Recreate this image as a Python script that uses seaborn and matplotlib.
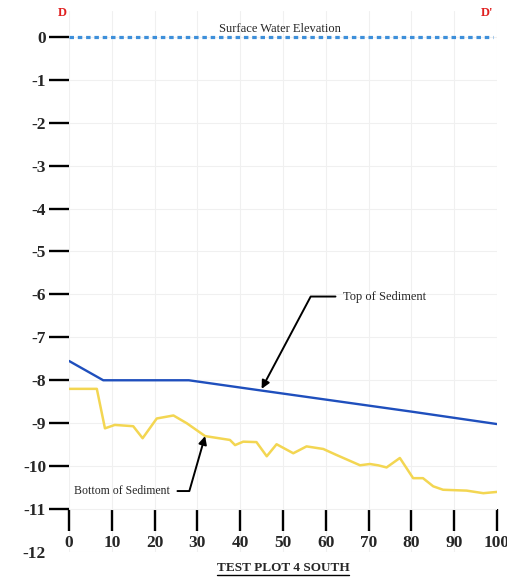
import numpy as np
import pandas as pd
import matplotlib
import matplotlib.pyplot as plt
from matplotlib.lines import Line2D
import seaborn as sns

# data
surface_x = [0, 99]
surface_y = [0.0, 0.0]

top_x = [0, 8, 28, 45, 60, 80, 100]
top_y = [-7.55, -8.0, -8.0, -8.24, -8.45, -8.73, -9.02]

bottom_x = [0, 6.5, 8.4, 10.7, 15, 17.2, 20.5, 24.4, 27.5, 31.8, 37.6, 38.8, 40.7,
            43.8, 46.2, 48.5, 52.4, 55.5, 59.4, 62.5, 68, 70.3, 72.2, 74.2, 77.3,
            80.4, 82.7, 85.1, 87.4, 92.9, 96.8, 100]
bottom_y = [-8.2, -8.2, -9.12, -9.04, -9.07, -9.35, -8.89, -8.82, -9.0, -9.3, -9.39,
            -9.51, -9.43, -9.44, -9.77, -9.49, -9.7, -9.54, -9.6, -9.74, -9.98, -9.95,
            -9.98, -10.03, -9.81, -10.28, -10.28, -10.47, -10.55, -10.57, -10.63, -10.6]

x_ticks = list(range(0, 101, 10))
y_ticks = list(range(0, -13, -1))

sns.set_style('whitegrid')
plt.rcParams['font.family'] = ['Liberation Serif', 'DejaVu Serif']
plt.rcParams['axes.unicode_minus'] = False

fig = plt.figure(figsize=(5.07, 5.79), dpi=100)
ax = fig.add_axes([0.1361, 0.0466, 0.8442, 0.9344])

surf = pd.DataFrame({'x': surface_x, 'y': surface_y})
top = pd.DataFrame({'x': top_x, 'y': top_y})
bot = pd.DataFrame({'x': bottom_x, 'y': bottom_y})

sns.lineplot(data=surf, x='x', y='y', ax=ax, color='#3d8fda', lw=2.3,
             linestyle=(0, (1.4, 1.2)), zorder=3)
sns.lineplot(data=top, x='x', y='y', ax=ax, color='#1f4fbd', lw=1.7, zorder=3)
sns.lineplot(data=bot, x='x', y='y', ax=ax, color='#f3d652', lw=1.8, zorder=3)

ax.set_xlim(0, 100)
ax.set_ylim(-12, 0.6)
ax.set_xlabel('')
ax.set_ylabel('')

for s in ax.spines.values():
    s.set_visible(False)
ax.spines['bottom'].set_position(('data', -11))

ax.set_xticks(x_ticks)
ax.set_xticklabels([str(v) for v in x_ticks])
ax.set_yticks(y_ticks)
ax.set_yticklabels([str(v) for v in y_ticks])
ax.tick_params(axis='x', bottom=True, direction='out', length=16, width=1.7,
               color='black', pad=3, labelsize=12.5)
ax.tick_params(axis='y', left=True, direction='out', length=14.5, width=1.7,
               color='black', pad=2, labelsize=12.5)
ax.yaxis.get_major_ticks()[-1].tick1line.set_visible(False)
for lab in ax.get_xticklabels() + ax.get_yticklabels():
    lab.set_fontweight('bold')

ax.grid(True, color='#f0f0f0', lw=0.8)
ax.set_axisbelow(True)

ax.text(49.3, 0.17, 'Surface Water Elevation', ha='center', va='center',
        fontsize=9, zorder=4)
ax.text(-1.6, 0.55, 'D', color='#e02020', fontsize=9, fontweight='bold',
        ha='center', va='center', clip_on=False)
ax.text(97.7, 0.55, "D'", color='#e02020', fontsize=9, fontweight='bold',
        ha='center', va='center', clip_on=False)

ax.annotate('Top of Sediment', xy=(45, -8.2), xytext=(64, -6.05),
            ha='left', va='center', fontsize=9,
            arrowprops=dict(arrowstyle='-|>', color='black', lw=1.4,
                            mutation_scale=12, shrinkA=3, shrinkB=0,
                            connectionstyle='angle,angleA=0,angleB=62,rad=0'))
ax.annotate('Bottom of Sediment', xy=(31.8, -9.3), xytext=(12.4, -10.58),
            ha='center', va='center', fontsize=8.5,
            arrowprops=dict(arrowstyle='-|>', color='black', lw=1.4,
                            mutation_scale=12, shrinkA=3, shrinkB=0,
                            connectionstyle='angle,angleA=0,angleB=-106,rad=0'))

title = ax.text(0.5, -0.03, 'TEST PLOT 4 SOUTH', transform=ax.transAxes,
                ha='center', va='center', fontsize=9.5, fontweight='bold')
fig.canvas.draw()
bb = title.get_window_extent().transformed(fig.transFigure.inverted())
fig.add_artist(Line2D([bb.x0, bb.x1], [bb.y0 - 0.001, bb.y0 - 0.001],
                      transform=fig.transFigure, color='black', lw=1))

fig.savefig('out.png', dpi=100)
